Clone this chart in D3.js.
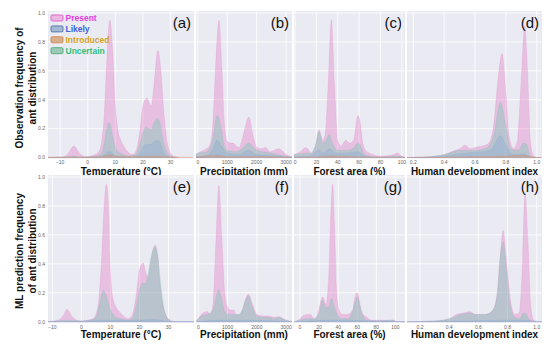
<!DOCTYPE html>
<html>
<head>
<meta charset="utf-8">
<script src="https://cdn.jsdelivr.net/npm/d3@7"></script>
<style>
  body { margin: 0; background: #fff; }
  svg { display: block; font-family: "Liberation Sans", Arial, sans-serif; }
</style>
</head>
<body>
<script>

// ---- data ----
var yTicks = [0, 0.2, 0.4, 0.6, 0.8, 1.0]
var tempTicks = [-10, 0, 10, 20, 30]
var precTicks = [0, 1000, 2000, 3000]
var forestTicks = [0, 20, 40, 60, 80, 100]
var hdiTicks = [0.2, 0.4, 0.6, 0.8, 1.0]

var legendNames = ["Present", "Likely", "Introduced", "Uncertain"]

// observation row
var tempPresentObs = [[-15,0],[-9,0.003],[-7,0.03],[-5,0.08],[-3,0.03],[-1,0.006],[0,0.006],[2,0.015],[4,0.04],[5,0.1],[6,0.3],[7,0.7],[8,0.95],[9,0.75],[10,0.36],[11,0.18],[12,0.12],[13,0.08],[14,0.05],[15,0.03],[16,0.02],[17,0.03],[18,0.08],[19,0.2],[20,0.36],[21.4,0.41],[23,0.355],[24,0.5],[25.4,0.74],[26.5,0.6],[27.5,0.33],[28.5,0.14],[29.5,0.05],[31,0.01],[33,0]]
var tempUncertainObs = [[-15,0],[-7,0.005],[-5,0.012],[-3,0.004],[0,0.004],[3,0.01],[5,0.03],[6,0.1],[7,0.21],[7.6,0.24],[8.3,0.22],[9,0.15],[10,0.07],[11,0.04],[12,0.03],[15,0.01],[17,0.015],[18,0.04],[19,0.1],[20,0.17],[21,0.21],[22,0.2],[23,0.19],[24,0.24],[25.2,0.27],[26.2,0.24],[27,0.15],[28,0.07],[29,0.03],[30,0.01],[32,0]]
var tempLikelyObs = [[-15,0],[5,0.005],[6.5,0.025],[8,0.04],[9,0.03],[10,0.012],[12,0.004],[17,0.004],[19,0.03],[20,0.07],[21,0.09],[23,0.09],[24,0.11],[25.2,0.12],[26.2,0.1],[27,0.06],[28,0.02],[29.5,0.003],[31,0]]
var tempIntroObs = [[-15,0.002],[-10,0.004],[0,0.004],[6,0.01],[8,0.02],[10,0.01],[20,0.008],[25,0.012],[30,0.005],[38,0.003]]

var precPresentObs = [[-60,0.02],[0,0.03],[200,0.05],[400,0.08],[500,0.2],[600,0.6],[720,0.95],[820,0.62],[900,0.25],[1000,0.11],[1100,0.1],[1200,0.1],[1300,0.08],[1400,0.07],[1500,0.12],[1600,0.2],[1730,0.28],[1880,0.15],[2000,0.07],[2150,0.06],[2300,0.07],[2450,0.04],[2600,0.05],[2750,0.06],[2900,0.04],[3050,0.015],[3200,0.005]]
var precUncertainObs = [[-60,0.02],[0,0.03],[300,0.04],[500,0.12],[660,0.29],[800,0.2],[900,0.08],[1000,0.05],[1300,0.04],[1500,0.06],[1720,0.1],[1850,0.08],[2000,0.05],[2500,0.03],[3000,0.01],[3200,0.005]]
var precLikelyObs = [[-60,0.005],[300,0.01],[500,0.05],[660,0.12],[800,0.08],[1000,0.03],[1400,0.02],[1720,0.05],[2000,0.02],[3000,0.005],[3200,0]]
var precIntroObs = [[-60,0.003],[700,0.015],[1000,0.006],[1750,0.008],[3200,0.002]]

var forestPresentObs = [[-1,0.02],[5,0.04],[10,0.07],[12,0.06],[15,0.03],[19,0.08],[22.5,0.19],[26,0.12],[28,0.15],[31,0.5],[34,0.955],[37,0.5],[40,0.12],[43,0.08],[47.5,0.12],[51,0.1],[55,0.12],[57,0.22],[59,0.29],[61,0.24],[63,0.12],[66,0.05],[70,0.03],[80,0.01],[90,0.015],[96,0.03],[100,0.01],[103,0]]
var forestUncertainObs = [[-1,0.02],[10,0.03],[15,0.03],[19,0.08],[22.5,0.18],[26,0.1],[29,0.12],[32,0.16],[35,0.1],[40,0.05],[50,0.05],[55,0.07],[59,0.1],[62,0.07],[65,0.02],[70,0.01],[80,0.004],[96,0.01],[103,0]]
var forestLikelyObs = [[-1,0.005],[15,0.01],[22,0.05],[27,0.03],[32,0.06],[38,0.03],[45,0.03],[59,0.04],[65,0.01],[75,0],[103,0]]
var forestIntroObs = [[-1,0.002],[22,0.006],[34,0.012],[59,0.006],[103,0.002]]

var hdiPresentObs = [[0.16,0],[0.3,0.005],[0.4,0.02],[0.45,0.04],[0.5,0.06],[0.535,0.085],[0.57,0.06],[0.6,0.07],[0.65,0.08],[0.69,0.1],[0.72,0.22],[0.75,0.55],[0.775,0.72],[0.8,0.45],[0.82,0.15],[0.85,0.06],[0.875,0.12],[0.9,0.55],[0.922,0.91],[0.94,0.6],[0.96,0.1],[0.98,0.01],[1.0,0]]
var hdiUncertainObs = [[0.16,0],[0.3,0.005],[0.4,0.02],[0.5,0.05],[0.6,0.05],[0.68,0.07],[0.72,0.15],[0.765,0.38],[0.8,0.22],[0.83,0.06],[0.88,0.05],[0.915,0.1],[0.935,0.09],[0.955,0.02],[0.975,0],[1.03,0]]
var hdiLikelyObs = [[0.16,0],[0.35,0.005],[0.5,0.025],[0.7,0.05],[0.765,0.15],[0.8,0.08],[0.85,0.02],[0.92,0.025],[0.96,0],[1.03,0]]
var hdiIntroObs = [[0.16,0],[0.4,0.003],[0.77,0.01],[0.92,0.015],[0.98,0.003],[1.03,0]]

// ML prediction row
var tempPresentML = [[-12,0],[-8,0.01],[-6,0.05],[-5,0.085],[-3,0.03],[-1,0.006],[0,0.005],[2,0.01],[4,0.02],[5,0.05],[6,0.15],[7,0.45],[8,0.85],[8.6,0.95],[9.3,0.8],[10,0.35],[11,0.15],[12,0.1],[13,0.07],[14,0.05],[15,0.03],[16,0.02],[17,0.03],[18,0.08],[19,0.2],[20,0.36],[21.3,0.405],[22,0.35],[23,0.31],[24,0.42],[25.4,0.53],[26.3,0.45],[27,0.28],[28,0.12],[29,0.05],[30,0.02],[32,0],[39,0]]
var tempUncertainML = [[-12,0],[-5,0.01],[0,0.005],[3,0.01],[5,0.03],[6,0.1],[7,0.19],[7.6,0.215],[9,0.15],[10,0.08],[11,0.05],[12,0.03],[14,0.02],[16,0.01],[17,0.015],[18,0.04],[19,0.12],[20,0.22],[21.2,0.265],[22,0.26],[23,0.33],[24,0.45],[25.2,0.515],[26.2,0.47],[27,0.32],[28,0.15],[29,0.05],[30,0.015],[32,0],[39,0]]
var tempLikelyML = [[-12,0],[0,0.002],[8,0.01],[20,0.01],[25,0.015],[30,0.003],[39,0]]

var precPresentML = [[-60,0.01],[0,0.02],[100,0.05],[300,0.07],[400,0.05],[500,0.12],[600,0.55],[700,0.94],[800,0.6],[900,0.2],[1000,0.1],[1100,0.08],[1200,0.08],[1300,0.05],[1400,0.05],[1500,0.08],[1600,0.15],[1710,0.19],[1850,0.12],[2000,0.05],[2200,0.04],[2400,0.04],[2600,0.03],[2750,0.035],[2900,0.02],[3100,0.005],[3250,0]]
var precUncertainML = [[-60,0.01],[0,0.02],[100,0.04],[300,0.05],[500,0.08],[600,0.16],[680,0.22],[800,0.16],[900,0.07],[1000,0.05],[1200,0.05],[1400,0.05],[1500,0.08],[1600,0.14],[1710,0.18],[1850,0.1],[2000,0.04],[2200,0.03],[2400,0.03],[2600,0.02],[2750,0.03],[3000,0.01],[3250,0]]
var precLikelyML = [[-60,0],[700,0.01],[1700,0.01],[3250,0]]

var forestPresentML = [[-6,0],[0,0.02],[3,0.04],[8,0.05],[11,0.05],[15,0.02],[18,0.04],[21,0.12],[24,0.17],[27,0.12],[30,0.3],[32,0.7],[34.2,0.95],[36,0.7],[38,0.25],[40,0.1],[44,0.05],[50,0.05],[55,0.08],[58,0.18],[60,0.2],[62,0.15],[65,0.06],[70,0.03],[75,0.01],[90,0.01],[97,0.012],[102,0],[110,0]]
var forestUncertainML = [[-6,0],[0,0.01],[5,0.02],[10,0.02],[15,0.02],[20,0.06],[23.5,0.15],[27,0.1],[30,0.1],[33,0.16],[36,0.1],[40,0.04],[44,0.02],[50,0.02],[55,0.07],[58,0.14],[60,0.175],[63,0.1],[66,0.04],[70,0.01],[80,0.005],[97,0.01],[102,0],[110,0]]
var forestLikelyML = [[-6,0],[30,0.01],[60,0.008],[110,0]]

var hdiPresentML = [[0.11,0],[0.3,0.005],[0.4,0.02],[0.45,0.05],[0.5,0.06],[0.54,0.07],[0.58,0.05],[0.65,0.05],[0.7,0.08],[0.73,0.2],[0.75,0.45],[0.77,0.63],[0.79,0.45],[0.82,0.15],[0.85,0.05],[0.88,0.06],[0.9,0.35],[0.92,0.89],[0.94,0.55],[0.96,0.1],[0.98,0.01],[1.0,0],[1.036,0]]
var hdiUncertainML = [[0.11,0],[0.3,0.005],[0.4,0.02],[0.45,0.04],[0.5,0.055],[0.54,0.06],[0.58,0.05],[0.65,0.05],[0.7,0.08],[0.73,0.2],[0.75,0.45],[0.77,0.55],[0.79,0.38],[0.82,0.1],[0.85,0.03],[0.88,0.02],[0.91,0.06],[0.93,0.05],[0.95,0.01],[0.97,0],[1.036,0]]
var hdiLikelyML = [[0.11,0],[0.5,0.005],[0.77,0.01],[0.92,0.01],[1.036,0]]

// ---- styles ----
var W = 550, H = 349
var colors = {
	present:   {fill: "#e377c2", op: 0.36, stroke: "#e377c2"},
	uncertain: {fill: "#61c8a9", op: 0.35, stroke: "#8ab0b0"},
	likely:    {fill: "#789fd7", op: 0.25, stroke: "#789fd7"},
	intro:     {fill: "#dd8452", op: 0.35, stroke: "#dd8452"}
}

var rows = [
	{top: 13, bottom: 157.5, tickY: 164, titleY: 174.5, ytitle: ["Observation frequency of", "ant distribution"], yc: 88},
	{top: 177, bottom: 321.7, tickY: 328.5, titleY: 338, ytitle: ["ML prediction frequency", "of ant distribution"], yc: 251}
]

var fmt1 = d3.format(".1f")
var fmtInt = d3.format("d")

var panels = [
	{label: "(a)", row: 0, x0: 48, x1: 194, dom: [-14.4, 38.5], ticks: tempTicks, fmt: fmtInt, title: "Temperature (°C)",
	 series: [["present", tempPresentObs], ["uncertain", tempUncertainObs], ["likely", tempLikelyObs], ["intro", tempIntroObs]]},
	{label: "(b)", row: 0, x0: 196, x1: 292, dom: [-60, 3200], ticks: precTicks, fmt: fmtInt, title: "Precipitation (mm)",
	 series: [["present", precPresentObs], ["uncertain", precUncertainObs], ["likely", precLikelyObs], ["intro", precIntroObs]]},
	{label: "(c)", row: 0, x0: 294, x1: 405, dom: [-1, 103], ticks: forestTicks, fmt: fmtInt, title: "Forest area (%)",
	 series: [["present", forestPresentObs], ["uncertain", forestUncertainObs], ["likely", forestLikelyObs], ["intro", forestIntroObs]]},
	{label: "(d)", row: 0, x0: 407, x1: 542, dom: [0.159, 1.034], ticks: hdiTicks, fmt: fmt1, title: "Human development index",
	 series: [["present", hdiPresentObs], ["uncertain", hdiUncertainObs], ["likely", hdiLikelyObs], ["intro", hdiIntroObs]]},
	{label: "(e)", row: 1, x0: 48, x1: 194, dom: [-11.5, 38.8], ticks: tempTicks, fmt: fmtInt, title: "Temperature (°C)",
	 series: [["present", tempPresentML], ["uncertain", tempUncertainML], ["likely", tempLikelyML]]},
	{label: "(f)", row: 1, x0: 196, x1: 292, dom: [-80, 3200], ticks: precTicks, fmt: fmtInt, title: "Precipitation (mm)",
	 series: [["present", precPresentML], ["uncertain", precUncertainML], ["likely", precLikelyML]]},
	{label: "(g)", row: 1, x0: 294, x1: 405, dom: [-6.3, 110], ticks: forestTicks, fmt: fmtInt, title: "Forest area (%)",
	 series: [["present", forestPresentML], ["uncertain", forestUncertainML], ["likely", forestLikelyML]]},
	{label: "(h)", row: 1, x0: 407, x1: 542, dom: [0.111, 1.036], ticks: hdiTicks, fmt: fmt1, title: "Human development index",
	 series: [["present", hdiPresentML], ["uncertain", hdiUncertainML], ["likely", hdiLikelyML]]}
]

var svg = d3.select("body").append("svg")
	.attr("width", W)
	.attr("height", H)

var defs = svg.append("defs")

panels.forEach(function(p, i){
	var r = rows[p.row]
	var x = d3.scaleLinear().domain(p.dom).range([p.x0, p.x1])
	var y = d3.scaleLinear().domain([0, 1]).range([r.bottom, r.top])
	var g = svg.append("g")

	defs.append("clipPath").attr("id", "clip" + i)
		.append("rect")
		.attr("x", p.x0).attr("y", r.top - 2)
		.attr("width", p.x1 - p.x0).attr("height", r.bottom - r.top + 3)

	// background
	g.append("rect")
		.attr("x", p.x0).attr("y", r.top - 2)
		.attr("width", p.x1 - p.x0).attr("height", r.bottom - r.top + 3)
		.style("fill", "#eaeaf2")

	// grid
	g.selectAll(".gy").data(yTicks.slice(1)).enter().append("line")
		.attr("x1", p.x0).attr("x2", p.x1)
		.attr("y1", function(d){ return y(d) }).attr("y2", function(d){ return y(d) })
		.style("stroke", "#fff").style("stroke-width", 0.8)
	g.selectAll(".gx").data(p.ticks).enter().append("line")
		.attr("x1", function(d){ return x(d) }).attr("x2", function(d){ return x(d) })
		.attr("y1", r.top - 2).attr("y2", r.bottom + 1)
		.style("stroke", "#fff").style("stroke-width", 0.8)

	// density areas
	var area = d3.area()
		.x(function(d){ return x(d[0]) })
		.y0(y(0))
		.y1(function(d){ return y(d[1]) })
		.curve(d3.curveMonotoneX)

	var marks = g.append("g").attr("clip-path", "url(#clip" + i + ")")
	p.series.forEach(function(s){
		var c = colors[s[0]]
		marks.append("path")
			.datum(s[1])
			.attr("d", area)
			.style("fill", c.fill)
			.style("fill-opacity", c.op)
			.style("stroke", c.stroke)
			.style("stroke-opacity", 0.3)
			.style("stroke-width", 0.6)
	})

	// x tick labels
	g.selectAll(".tx").data(p.ticks).enter().append("text")
		.attr("x", function(d){ return x(d) })
		.attr("y", r.tickY)
		.attr("text-anchor", "middle")
		.style("font-size", "5px")
		.style("fill", "#666")
		.text(function(d){ return p.fmt(d) })

	// y tick labels on first column
	if(p.x0 === 48){
		g.selectAll(".ty").data(yTicks).enter().append("text")
			.attr("x", 45)
			.attr("y", function(d){ return y(d) + 1.8 })
			.attr("text-anchor", "end")
			.style("font-size", "5px")
			.style("fill", "#666")
			.text(function(d){ return fmt1(d) })
	}

	// axis title
	g.append("text")
		.attr("x", (p.x0 + p.x1) / 2)
		.attr("y", r.titleY)
		.attr("text-anchor", "middle")
		.style("font-size", "10px")
		.style("font-weight", "bold")
		.style("fill", "#111")
		.text(p.title)

	// panel label
	g.append("text")
		.attr("x", p.x1 - 3)
		.attr("y", r.top + 15)
		.attr("text-anchor", "end")
		.style("font-size", "15px")
		.style("fill", "#111")
		.text(p.label)
})

// y titles
rows.forEach(function(r){
	var t = svg.append("text")
		.attr("transform", "translate(" + 22.5 + "," + r.yc + ") rotate(-90)")
		.attr("text-anchor", "middle")
		.style("font-size", "10px")
		.style("font-weight", "bold")
		.style("fill", "#111")
	t.append("tspan").attr("x", 0).attr("dy", 0).text(r.ytitle[0])
	t.append("tspan").attr("x", 0).attr("dy", 13).text(r.ytitle[1])
})

// legend
var legColors = [
	{fill: "#ecb6de", stroke: "#e060d0", text: "#e23ee0"},
	{fill: "#a6b8cf", stroke: "#4c72b0", text: "#3f5fe0"},
	{fill: "#d9ae8c", stroke: "#d08a50", text: "#d6a22a"},
	{fill: "#9ccab6", stroke: "#4fae7a", text: "#2fc07e"}
]
var leg = svg.append("g")
leg.selectAll("rect").data(legendNames).enter().append("rect")
	.attr("x", 51).attr("y", function(d, i){ return 15 + i * 10.9 })
	.attr("width", 12).attr("height", 6)
	.attr("rx", 1.2)
	.style("fill", function(d, i){ return legColors[i].fill })
	.style("stroke", function(d, i){ return legColors[i].stroke })
	.style("stroke-width", 0.9)
leg.selectAll("text").data(legendNames).enter().append("text")
	.attr("x", 65.5).attr("y", function(d, i){ return 21 + i * 10.9 })
	.style("font-size", "8.5px")
	.style("font-weight", "bold")
	.style("fill", function(d, i){ return legColors[i].text })
	.text(function(d){ return d })

</script>
</body>
</html>
